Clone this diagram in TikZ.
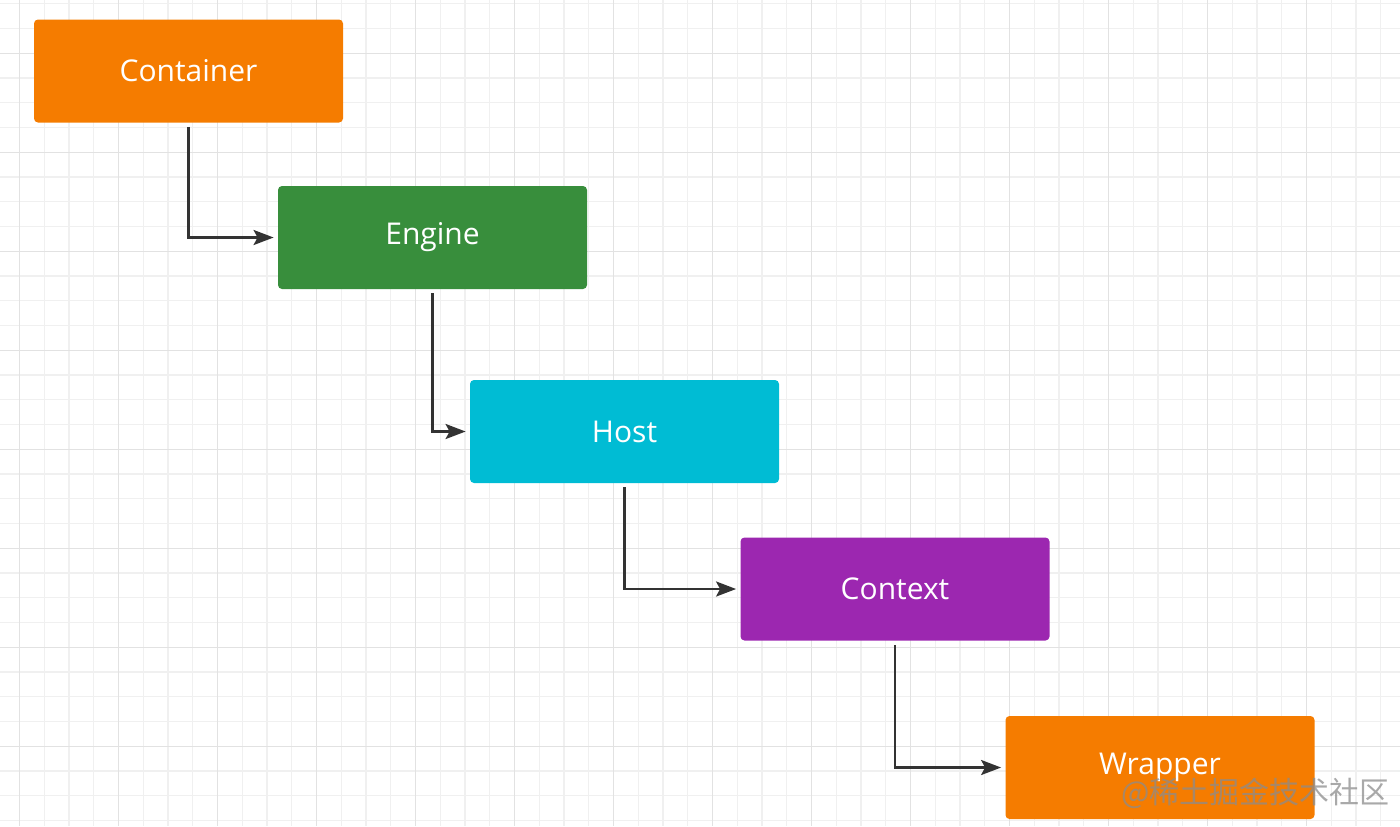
\documentclass[tikz,border=0pt]{standalone}
\usepackage{fontspec}
\setmainfont{Open Sans}
\newfontfamily\cjkfont{Noto Sans CJK SC}
\definecolor{boxorange}{HTML}{F57C00}
\definecolor{boxgreen}{HTML}{388E3C}
\definecolor{boxcyan}{HTML}{00BCD4}
\definecolor{boxpurple}{HTML}{9C27B0}
\definecolor{linkgray}{HTML}{333333}
\definecolor{gridminor}{HTML}{F0F0F0}
\definecolor{gridmajor}{HTML}{E2E2E2}
\usetikzlibrary{arrows.meta, positioning}
\tikzset{
	layer/.style={rectangle, rounded corners=2pt, draw=none, inner sep=0pt, minimum width=154.5pt, minimum height=51.5pt, align=center, text=white, font=\fontsize{15}{18}\selectfont},
	link/.style={-{Stealth[length=10pt, width=7.5pt, inset=2pt]}, line width=1.3pt, draw=linkgray, shorten <=2pt, shorten >=2pt},
}

\begin{document}
\begin{tikzpicture}[x=0.5pt, y=-0.5pt]
		\useasboundingbox (0,0) rectangle (1400,826);
		% grid
		\foreach \i in {0,...,56} {
			\draw[gridminor, line width=0.6pt] ({19.5+24.75*\i},0) -- ({19.5+24.75*\i},826);
		}
		\foreach \j in {-2,...,32} {
			\draw[gridminor, line width=0.6pt] (0,{53.3+24.75*\j}) -- (1400,{53.3+24.75*\j});
		}
		\foreach \i in {0,...,14} {
			\draw[gridmajor, line width=0.7pt] ({19.5+99*\i},0) -- ({19.5+99*\i},826);
		}
		\foreach \j in {0,...,7} {
			\draw[gridmajor, line width=0.7pt] (0,{53.3+99*\j}) -- (1400,{53.3+99*\j});
		}
		% layers
		\node[layer, fill=boxorange] (container) at (188.5,71) {Container};
		\node[layer, fill=boxgreen] (engine) at (432.5,237.5) {Engine};
		\node[layer, fill=boxcyan] (host) at (624.5,431.5) {Host};
		\node[layer, fill=boxpurple] (context) at (895,589) {Context};
		\node[layer, fill=boxorange] (wrapper) at (1160,767.5) {Wrapper};
		\draw[link] (container.south) |- (engine.west);
		\draw[link] (engine.south) |- (host.west);
		\draw[link] (host.south) |- (context.west);
		\draw[link] (context.south) |- (wrapper.west);
		% watermark
		\node[text=black!45, text opacity=0.75, font=\cjkfont\fontsize{15}{18}\selectfont, anchor=east, inner sep=0pt] (mark) at (1390,793) {@稀土掘金技术社区};
	\end{tikzpicture}
\end{document}
